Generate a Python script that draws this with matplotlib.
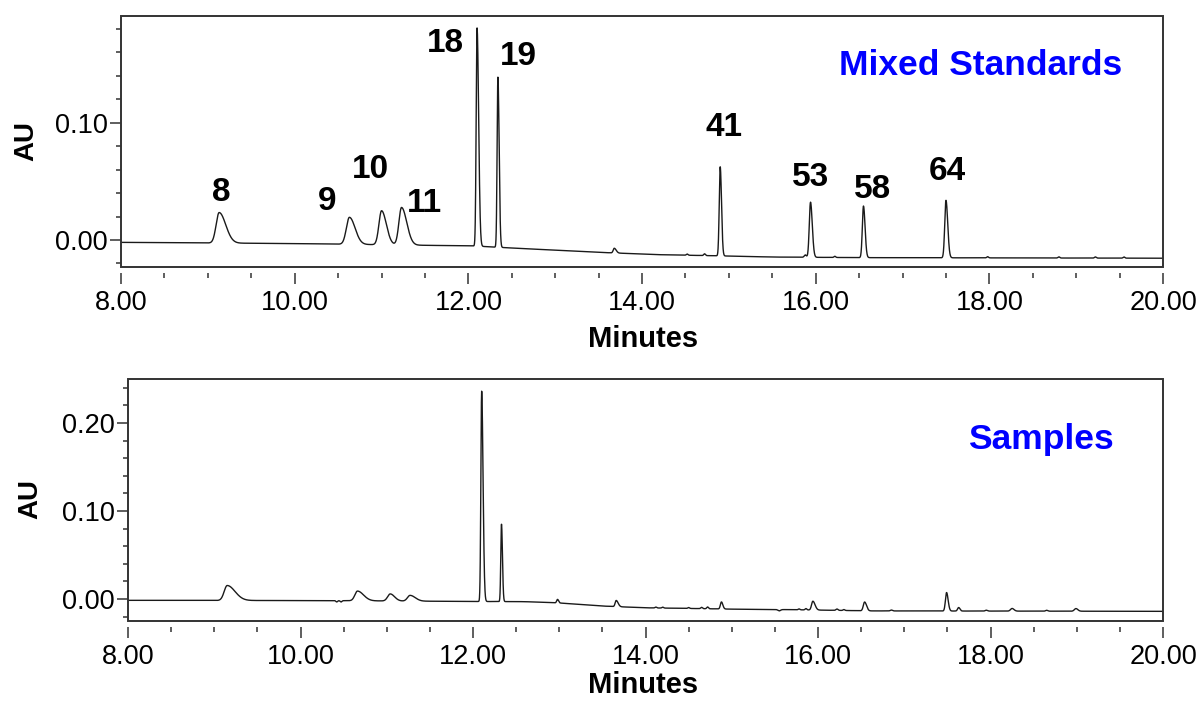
import numpy as np
import matplotlib.pyplot as plt
from matplotlib.patches import Rectangle
from matplotlib.ticker import MultipleLocator, FormatStrFormatter

plt.rcParams['font.family'] = ['Liberation Sans', 'DejaVu Sans']

# -------------------------
# Peak tables
# (retention time [min], height above baseline [AU], front / tail sigma [min])
# -------------------------

std_rt = [9.13, 10.63, 11.00, 11.23, 12.10, 12.34, 13.68, 14.52, 14.72, 14.90,
          15.88, 15.94, 16.22, 16.55, 17.50, 17.98, 18.80, 19.22, 19.55]
std_h = [0.026, 0.023, 0.029, 0.032, 0.186, 0.145, 0.004, 0.001, 0.0015, 0.076,
         0.002, 0.047, 0.001, 0.044, 0.049, 0.001, 0.001, 0.001, 0.001]
std_sl = [0.035, 0.035, 0.030, 0.030, 0.010, 0.009, 0.012, 0.010, 0.010, 0.011,
          0.012, 0.014, 0.010, 0.013, 0.014, 0.010, 0.010, 0.010, 0.010]
std_sr = [0.075, 0.065, 0.055, 0.060, 0.018, 0.014, 0.022, 0.010, 0.010, 0.015,
          0.012, 0.020, 0.010, 0.018, 0.020, 0.010, 0.010, 0.010, 0.010]

# baseline drift of the standards run
std_base_t = [8.0, 10.0, 11.5, 12.05, 12.5, 13.5, 14.2, 14.9, 15.5, 16.5, 20.0]
std_base_y = [-0.002, -0.003, -0.0045, -0.005, -0.0068, -0.0105, -0.0125,
              -0.0135, -0.0145, -0.015, -0.0155]

smp_rt = [9.15, 10.42, 10.47, 10.66, 11.04, 11.27, 12.10, 12.33, 12.98, 13.66,
          14.12, 14.20, 14.50, 14.65, 14.72, 14.88, 15.55, 15.78, 15.86, 15.94,
          16.22, 16.30, 16.54, 16.85, 17.49, 17.63, 17.95, 18.25, 18.65, 18.99]
smp_h = [0.017, -0.0015, -0.0015, 0.011, 0.008, 0.0065, 0.239, 0.088, 0.004, 0.007,
         0.001, 0.001, 0.001, 0.0015, 0.002, 0.008, -0.0015, 0.001, 0.0015, 0.010,
         0.0015, 0.001, 0.010, 0.001, 0.021, 0.004, 0.001, 0.003, 0.001, 0.003]
smp_sl = [0.035, 0.010, 0.010, 0.030, 0.030, 0.030, 0.009, 0.008, 0.010, 0.012,
          0.010, 0.010, 0.010, 0.010, 0.010, 0.012, 0.015, 0.010, 0.010, 0.015,
          0.012, 0.010, 0.015, 0.012, 0.013, 0.012, 0.012, 0.018, 0.012, 0.018]
smp_sr = [0.090, 0.010, 0.010, 0.070, 0.050, 0.060, 0.016, 0.011, 0.012, 0.022,
          0.010, 0.010, 0.010, 0.010, 0.010, 0.016, 0.015, 0.010, 0.010, 0.025,
          0.012, 0.010, 0.022, 0.012, 0.018, 0.015, 0.012, 0.022, 0.012, 0.022]

smp_base_t = [8.0, 10.4, 11.5, 12.05, 12.6, 13.0, 13.5, 14.0, 14.5, 15.0, 15.6,
              16.3, 16.6, 20.0]
smp_base_y = [-0.0015, -0.0018, -0.0025, -0.0028, -0.003, -0.0045, -0.008, -0.010,
              -0.0107, -0.0115, -0.012, -0.013, -0.0135, -0.014]

# peak numbers written over the standards run (x, baseline y)
lbl_text = ['8', '9', '10', '11', '18', '19', '41', '53', '58', '64']
lbl_x = [9.15, 10.37, 10.87, 11.49, 11.74, 12.58, 14.94, 15.94, 16.655, 17.52]
lbl_y = [0.033, 0.026, 0.053, 0.024, 0.160, 0.149, 0.089, 0.046, 0.036, 0.051]

x_major = [8, 10, 12, 14, 16, 18, 20]


def trace(t, rt, h, sl, sr, base_t, base_y):
    y = np.interp(t, base_t, base_y)
    for r, a, s1, s2 in zip(rt, h, sl, sr):
        s = np.where(t < r, s1, s2)
        y = y + a * np.exp(-0.5 * ((t - r) / s) ** 2)
    return y


def style_axes(ax, ylim, ymajor):
    ax.set_xlim(8, 20)
    ax.set_ylim(*ylim)
    for sp in ax.spines.values():
        sp.set_visible(False)
    # x ticks sit a little below the frame, like the Empower export
    ax.spines['bottom'].set_position(('outward', 4.3))
    ax.add_patch(Rectangle((0, 0), 1, 1, transform=ax.transAxes, fill=False,
                           edgecolor='#333333', linewidth=1.4, clip_on=False, zorder=3))
    ax.set_xticks(x_major)
    ax.xaxis.set_major_formatter(FormatStrFormatter('%.2f'))
    ax.xaxis.set_minor_locator(MultipleLocator(0.5))
    ax.set_yticks(ymajor)
    ax.yaxis.set_major_formatter(FormatStrFormatter('%.2f'))
    ax.yaxis.set_minor_locator(MultipleLocator(0.02))
    ax.tick_params(which='both', direction='out', color='#333333', width=1.1,
                   labelsize=19.5, top=False, right=False)
    ax.tick_params(axis='x', which='major', length=8, pad=4.5)
    ax.tick_params(axis='x', which='minor', length=3.6)
    ax.tick_params(axis='y', which='major', length=8, pad=1.5)
    ax.tick_params(axis='y', which='minor', length=3.6)


t = np.linspace(8, 20, 8000)

fig = plt.figure(figsize=(12.02, 7.01), dpi=100)
ax1 = fig.add_axes([0.1007, 0.6191, 0.8669, 0.3581])
ax2 = fig.add_axes([0.1065, 0.1141, 0.8611, 0.3452])

ax1.plot(t, trace(t, std_rt, std_h, std_sl, std_sr, std_base_t, std_base_y),
         color='#1a1a1a', lw=1.0)
style_axes(ax1, (-0.023, 0.191), [0.0, 0.1])
for s, x, y in zip(lbl_text, lbl_x, lbl_y):
    ax1.text(x, y, s, ha='center', va='baseline', fontsize=24, fontweight='bold')
ax1.text(19.53, 0.1406, 'Mixed Standards', ha='right', va='baseline',
         fontsize=25.5, fontweight='bold', color='#0000ff')

ax2.plot(t, trace(t, smp_rt, smp_h, smp_sl, smp_sr, smp_base_t, smp_base_y),
         color='#1a1a1a', lw=1.0)
style_axes(ax2, (-0.025, 0.25), [0.0, 0.1, 0.2])
ax2.text(19.43, 0.170, 'Samples', ha='right', va='baseline',
         fontsize=25.5, fontweight='bold', color='#0000ff')

# axis titles
fig.text(643 / 1202, 1 - 347 / 701, 'Minutes', ha='center', va='baseline',
         fontsize=21, fontweight='bold')
fig.text(643 / 1202, 1 - 693 / 701, 'Minutes', ha='center', va='baseline',
         fontsize=21, fontweight='bold')
fig.text(26 / 1202, 1 - 141 / 701, 'AU', ha='center', va='center', rotation=90,
         fontsize=20, fontweight='bold')
fig.text(30 / 1202, 1 - 499 / 701, 'AU', ha='center', va='center', rotation=90,
         fontsize=20, fontweight='bold')

fig.savefig('out.png', dpi=100)
